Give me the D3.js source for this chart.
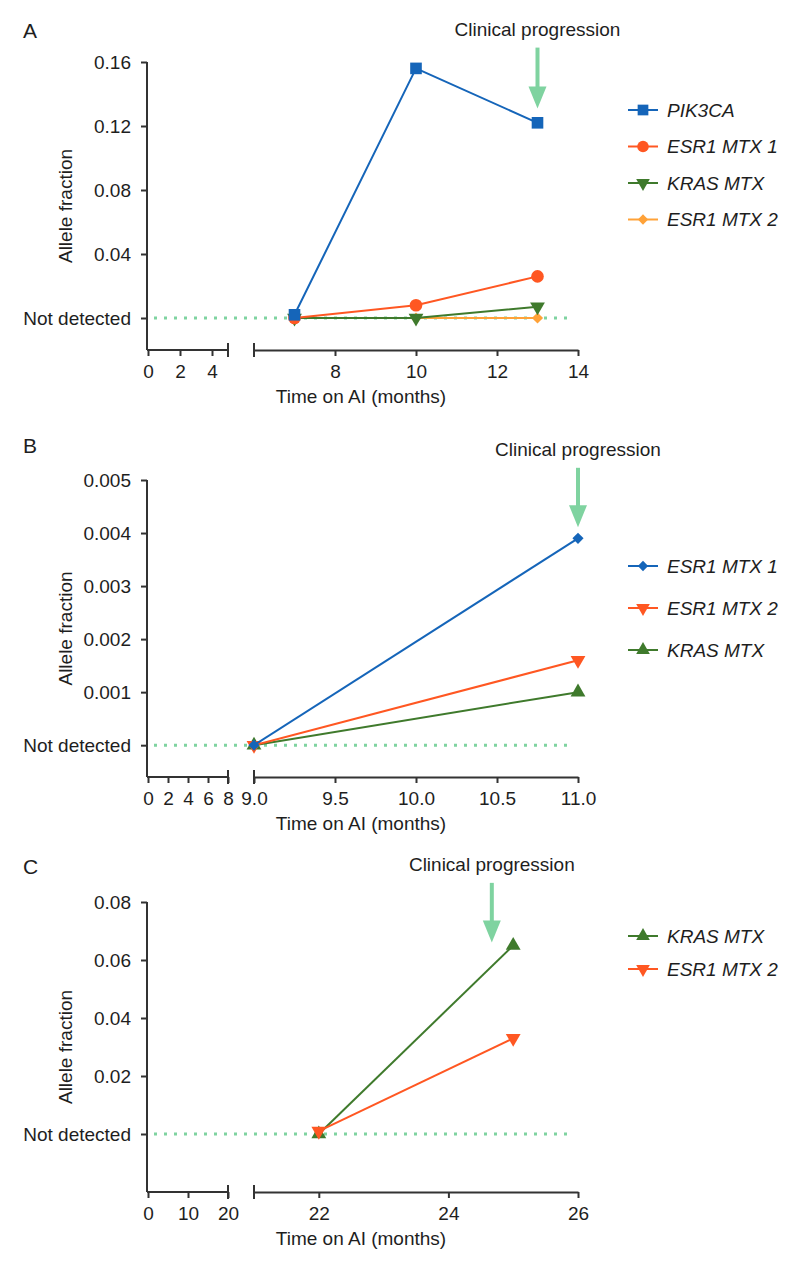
<!DOCTYPE html>
<html>
<head>
<meta charset="utf-8">
<script src="https://cdn.jsdelivr.net/npm/d3@7"></script>
<style>
  body { margin: 0; background: #fff; }
  svg { display: block; font-family: "Liberation Sans", Arial, sans-serif; }
</style>
</head>
<body>
<div id="chart"></div>
<script>
// ---- data ----
// panel A
const monthsA = [7, 10, 13];
const pik3caA = [0.002, 0.156, 0.122];
const esr1Mtx1A = [0, 0.008, 0.026];
const krasMtxA = [0, 0, 0.007];
const esr1Mtx2A = [0, 0, 0];
const yTicksA = [0, 0.04, 0.08, 0.12, 0.16];
const leftTicksA = [0, 2, 4];
const rightTicksA = [8, 10, 12, 14];

// panel B
const monthsB = [9, 11];
const esr1Mtx1B = [0, 0.0039];
const esr1Mtx2B = [0, 0.0016];
const krasMtxB = [0, 0.001];
const yTicksB = [0, 0.001, 0.002, 0.003, 0.004, 0.005];
const leftTicksB = [0, 2, 4, 6, 8];
const rightTicksB = [9, 9.5, 10, 10.5, 11];

// panel C
const monthsC = [22, 25];
const krasMtxC = [0, 0.065];
const esr1Mtx2C = [0.001, 0.033];
const yTicksC = [0, 0.02, 0.04, 0.06, 0.08];
const leftTicksC = [0, 10, 20];
const rightTicksC = [22, 24, 26];

const colors = {
  blue: "#1565b9",
  red: "#ff5722",
  green: "#3f7a2c",
  orange: "#ffa238",
  mint: "#7fd3a0",
  ink: "#1e1e1e"
};

const fontSize = "19px";

const width = 800, height = 1272;
const svg = d3.select("#chart").append("svg")
    .attr("width", width)
    .attr("height", height)
    .attr("viewBox", [0, 0, width, height]);

const panels = [
  {
    letter: "A", top: 0, axisY: 350, yTopPx: 62,
    yDomain: [-0.02, 0.16], yTicks: yTicksA, yFormat: d3.format(".2f"),
    leftDomain: [0, 5], leftTicks: leftTicksA, leftFormat: d3.format("d"),
    rightDomain: [6, 14], rightTicks: rightTicksA, rightFormat: d3.format("d"),
    progress: {month: 13, top: 0.169, tip: 0.131},
    legendY: 110, legendStep: 36.5,
    series: [
      {name: "PIK3CA", x: monthsA, y: pik3caA, color: colors.blue, symbol: "square"},
      {name: "ESR1 MTX 1", x: monthsA, y: esr1Mtx1A, color: colors.red, symbol: "circle"},
      {name: "KRAS MTX", x: monthsA, y: krasMtxA, color: colors.green, symbol: "down"},
      {name: "ESR1 MTX 2", x: monthsA, y: esr1Mtx2A, color: colors.orange, symbol: "diamond"}
    ],
    drawOrder: [3, 2, 1, 0]
  },
  {
    letter: "B", top: 415, axisY: 777, yTopPx: 480,
    yDomain: [-0.0006, 0.005], yTicks: yTicksB, yFormat: d3.format(".3f"),
    leftDomain: [0, 8], leftTicks: leftTicksB, leftFormat: d3.format("d"),
    rightDomain: [9, 11], rightTicks: rightTicksB, rightFormat: d3.format(".1f"),
    progress: {month: 11, top: 0.00523, tip: 0.00411},
    legendY: 566, legendStep: 42,
    series: [
      {name: "ESR1 MTX 1", x: monthsB, y: esr1Mtx1B, color: colors.blue, symbol: "diamond"},
      {name: "ESR1 MTX 2", x: monthsB, y: esr1Mtx2B, color: colors.red, symbol: "down"},
      {name: "KRAS MTX", x: monthsB, y: krasMtxB, color: colors.green, symbol: "up"}
    ],
    drawOrder: [2, 1, 0]
  },
  {
    letter: "C", top: 836, axisY: 1192, yTopPx: 902,
    yDomain: [-0.02, 0.08], yTicks: yTicksC, yFormat: d3.format(".2f"),
    leftDomain: [0, 20], leftTicks: leftTicksC, leftFormat: d3.format("d"),
    rightDomain: [21, 26], rightTicks: rightTicksC, rightFormat: d3.format("d"),
    progress: {month: 24.67, top: 0.0866, tip: 0.0660},
    legendY: 936, legendStep: 33,
    series: [
      {name: "KRAS MTX", x: monthsC, y: krasMtxC, color: colors.green, symbol: "up"},
      {name: "ESR1 MTX 2", x: monthsC, y: esr1Mtx2C, color: colors.red, symbol: "down"}
    ],
    drawOrder: [0, 1]
  }
];

const axisX0 = 147;      // y-axis position
const leftEnd = 228;     // end of the left x segment
const rightStart = 254;  // start of the right x segment
const rightEnd = 578;

function symbolPath(kind, scale = 1) {
  const types = {
    square: [d3.symbolSquare, 135],
    circle: [d3.symbolCircle, 125],
    up: [d3.symbolTriangle, 95],
    down: [d3.symbolTriangle, 95],
    diamond: [d3.symbolSquare, 62]
  };
  const [t, s] = types[kind];
  return d3.symbol(t, s * scale)();
}

function symbolRotation(kind) {
  if (kind === "down") return " rotate(180)";
  if (kind === "diamond") return " rotate(45)";
  return "";
}

function styleAxis(ax) {
  ax.selectAll("line, path").attr("stroke", "#333").attr("stroke-width", 2);
  ax.selectAll("text")
      .attr("fill", colors.ink)
      .style("font-size", fontSize)
      .style("font-family", "Liberation Sans, Arial, sans-serif");
}

function drawPanel(p) {
  const g = svg.append("g");

  const y = d3.scaleLinear().domain(p.yDomain).range([p.axisY, p.yTopPx]);
  const xLeft = d3.scaleLinear().domain(p.leftDomain).range([axisX0 + 1, leftEnd]);
  const xRight = d3.scaleLinear().domain(p.rightDomain).range([rightStart, rightEnd]);

  // panel letter
  g.append("text")
      .attr("x", 23)
      .attr("y", p.top + 38)
      .attr("fill", colors.ink)
      .style("font-size", "21px")
      .text(p.letter);

  // "not detected" dotted line
  g.append("line")
      .attr("x1", axisX0 + 7)
      .attr("x2", 574)
      .attr("y1", y(0))
      .attr("y2", y(0))
      .attr("stroke", colors.mint)
      .attr("stroke-width", 3)
      .attr("stroke-dasharray", "3,7");

  // y axis
  g.append("g")
      .attr("transform", `translate(${axisX0},0)`)
      .call(d3.axisLeft(y)
        .tickValues(p.yTicks)
        .tickFormat(d => d === 0 ? "Not detected" : p.yFormat(d))
        .tickSize(6)
        .tickPadding(10)
        .tickSizeOuter(0))
      .call(ax => ax.select(".domain").attr("d", `M0,${p.yTopPx}V${p.axisY}`))
      .call(styleAxis);

  // y title
  g.append("text")
      .attr("transform", `translate(72,${(p.yTopPx + p.axisY) / 2}) rotate(-90)`)
      .attr("text-anchor", "middle")
      .attr("fill", colors.ink)
      .style("font-size", fontSize)
      .text("Allele fraction");

  // broken x axis: left segment
  g.append("g")
      .attr("transform", `translate(0,${p.axisY})`)
      .call(d3.axisBottom(xLeft)
        .tickValues(p.leftTicks)
        .tickFormat(p.leftFormat)
        .tickSize(6)
        .tickPadding(9)
        .tickSizeOuter(0))
      .call(ax => ax.select(".domain").attr("d", `M${axisX0},0H${leftEnd}`))
      .call(styleAxis);

  // right segment
  g.append("g")
      .attr("transform", `translate(0,${p.axisY})`)
      .call(d3.axisBottom(xRight)
        .tickValues(p.rightTicks)
        .tickFormat(p.rightFormat)
        .tickSize(6)
        .tickPadding(9)
        .tickSizeOuter(0))
      .call(styleAxis);

  // break caps
  g.append("g")
      .attr("stroke", "#333")
      .attr("stroke-width", 2)
    .selectAll("line")
    .data([leftEnd, rightStart])
    .join("line")
      .attr("x1", d => d)
      .attr("x2", d => d)
      .attr("y1", p.axisY - 7)
      .attr("y2", p.axisY + 7);

  // x title
  g.append("text")
      .attr("x", 361)
      .attr("y", p.axisY + 53)
      .attr("text-anchor", "middle")
      .attr("fill", colors.ink)
      .style("font-size", fontSize)
      .text("Time on AI (months)");

  // series lines + markers
  const line = d3.line()
      .x(d => xRight(d[0]))
      .y(d => y(d[1]));

  p.drawOrder.forEach(i => {
    const s = p.series[i];
    const pts = s.x.map((m, k) => [m, s.y[k]]);
    g.append("path")
        .datum(pts)
        .attr("fill", "none")
        .attr("stroke", s.color)
        .attr("stroke-width", 2)
        .attr("stroke-linejoin", "round")
        .attr("d", line);
    g.append("g")
      .selectAll("path")
      .data(pts)
      .join("path")
        .attr("transform", d => `translate(${xRight(d[0])},${y(d[1])})${symbolRotation(s.symbol)}`)
        .attr("fill", s.color)
        .attr("d", symbolPath(s.symbol));
  });

  // clinical progression arrow
  const ax = xRight(p.progress.month);
  const yTop = y(p.progress.top);
  const yTip = y(p.progress.tip);
  const headH = 22;
  g.append("line")
      .attr("x1", ax).attr("x2", ax)
      .attr("y1", yTop).attr("y2", yTip - headH + 2)
      .attr("stroke", colors.mint)
      .attr("stroke-width", 4);
  g.append("path")
      .attr("d", `M${ax - 9},${yTip - headH}L${ax + 9},${yTip - headH}L${ax},${yTip}Z`)
      .attr("fill", colors.mint);
  g.append("text")
      .attr("x", ax)
      .attr("y", yTop - 12)
      .attr("text-anchor", "middle")
      .attr("fill", colors.ink)
      .style("font-size", fontSize)
      .text("Clinical progression");

  // legend
  const legend = g.append("g")
    .selectAll("g")
    .data(p.series)
    .join("g")
      .attr("transform", (d, i) => `translate(628,${p.legendY + i * p.legendStep})`);
  legend.append("line")
      .attr("x1", 0).attr("x2", 30)
      .attr("stroke", d => d.color)
      .attr("stroke-width", 2);
  legend.append("path")
      .attr("transform", d => `translate(15,0)${symbolRotation(d.symbol)}`)
      .attr("fill", d => d.color)
      .attr("d", d => symbolPath(d.symbol, 0.85));
  legend.append("text")
      .attr("x", 39)
      .attr("dy", "0.35em")
      .attr("fill", colors.ink)
      .style("font-size", fontSize)
      .style("font-style", "italic")
      .text(d => d.name);
}

panels.forEach(drawPanel);
</script>
</body>
</html>
